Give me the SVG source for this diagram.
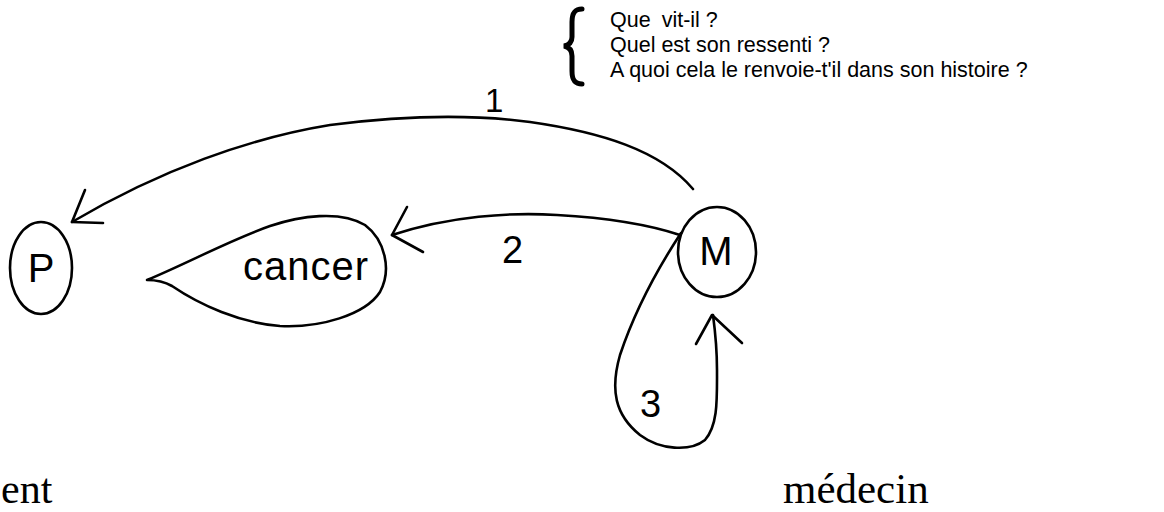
<svg xmlns="http://www.w3.org/2000/svg" width="1164" height="512" viewBox="0 0 1164 512">
<style>
  .ln { fill: none; stroke: #000; stroke-width: 2.6; stroke-linecap: round; stroke-linejoin: round; }
  .sans { font-family: "Liberation Sans", Arial, sans-serif; fill: #000; }
  .serif { font-family: "Liberation Serif", "Times New Roman", serif; fill: #000; }
  .node { font-size: 40px; }
  .q { font-size: 21.5px; }
</style>
<rect width="1164" height="512" fill="#fff"/>

<g id="questions">
  <path d="M582,9 C574,9 572,14 572,22 L572,37 C572,42 569,45 564,46 C569,47 572,50 572,56 L572,71 C572,79 574,84 582,84" fill="none" stroke="#000" stroke-width="5" stroke-linecap="round"/>
  <text class="sans q" x="610" y="27">Que <tspan dx="5">vit-il ?</tspan></text>
  <text class="sans q" x="610" y="52">Quel est son ressenti ?</text>
  <text class="sans q" x="610" y="77">A quoi cela le renvoie-t'il dans son histoire ?</text>
</g>

<g id="node-P">
  <ellipse cx="41" cy="268" rx="31" ry="46" class="ln"/>
  <text class="sans node" x="41" y="282" text-anchor="middle">P</text>
</g>

<g id="node-cancer">
  <path class="ln" d="M147,280 C190,262 230,240 270,226 C300,216 340,210 365,225 C385,240 392,270 380,292 C365,315 320,328 280,326 C240,323 200,305 172,286 C165,282 155,280 147,280 Z"/>
  <text class="sans" x="243" y="280" font-size="40" letter-spacing="1">cancer</text>
</g>

<g id="node-M">
  <ellipse cx="717" cy="252" rx="39" ry="45" class="ln"/>
  <text class="sans node" x="716" y="265" text-anchor="middle">M</text>
</g>

<g id="connectors">
  <path class="ln" d="M693,189 C660,150 600,132 530,122 C470,114 400,116 330,125 C250,138 160,170 72,222"/>
  <path class="ln" d="M85,190 L72,222 L103,223"/>
  <path class="ln" d="M680,235 C650,225 610,218 557,215 C510,212 450,216 392,235"/>
  <path class="ln" d="M407,207 L392,235 L423,252"/>
  <path class="ln" d="M681,233 C660,265 635,310 620,355 C610,390 615,415 640,435 C660,450 690,452 705,440 C718,425 717,400 717,370 C717,350 715,330 713,315"/>
  <path class="ln" d="M696,344 L712,315 L742,343"/>
</g>

<g id="labels">
  <text class="sans" x="485" y="112" font-size="33">1</text>
  <text class="sans" x="502" y="263" font-size="38">2</text>
  <text class="sans" x="640" y="417" font-size="38">3</text>
  <text class="serif" x="1" y="503" font-size="42">ent</text>
  <text class="serif" x="783" y="503" font-size="43">médecin</text>
</g>
</svg>
